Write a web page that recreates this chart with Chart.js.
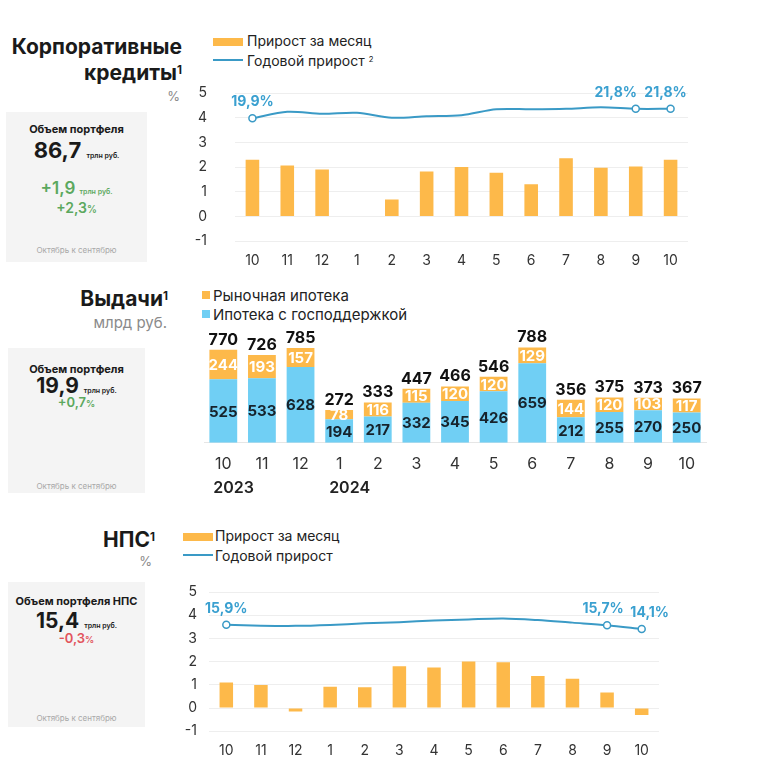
<!DOCTYPE html>
<html lang="ru">
<head>
  <meta charset="UTF-8">
  <title>Корпоративные кредиты, выдачи ипотеки, НПС</title>
  <script src="https://cdn.jsdelivr.net/npm/chart.js"></script>
  <style>
    body {
      margin: 0;
      width: 758px;
      height: 769px;
      position: relative;
      overflow: hidden;
      background: #fff;
      color: #1a1a1a;
      font-family: Inter, 'Noto Sans', sans-serif;
    }
    .t {
      position: absolute;
      white-space: nowrap;
      line-height: 1;
      transform: translateY(-50%);
    }
    .up { position: relative; top: -0.55em; font-size: 0.55em; }
    .box { position: absolute; background: #f4f4f4; }
    .box .t { left: 0; right: 0; text-align: center; }
    .unit { font-size: 7px; font-weight: 600; }
    .pct { font-size: 0.7em; }
    .note { font-size: 8px; color: #a8a8a8; }
    .green { color: #5ba85e; font-weight: 600; }
    .red { color: #e2535c; font-weight: 600; }
    .gray { color: #8a8a8a; }
    .sw { position: absolute; }
    .leg { font-size: 14px; color: #222; }
    .chart { position: absolute; }
  </style>
</head>
<body>
  <!-- левая колонка: заголовки -->
  <div class="t" style="right:576px;top:46px;font-weight:700;font-size:21px">Корпоративные</div>
  <div class="t" style="right:576px;top:72px;font-weight:700;font-size:21px">кредиты<span class="up">1</span></div>
  <div class="t gray" style="right:578px;top:96px;font-size:13px">%</div>

  <div class="t" style="right:590px;top:298px;font-weight:700;font-size:21px">Выдачи<span class="up">1</span></div>
  <div class="t gray" style="right:591px;top:322px;font-size:15px">млрд руб.</div>

  <div class="t" style="right:603px;top:539px;font-weight:700;font-size:21px">НПС<span class="up">1</span></div>
  <div class="t gray" style="right:606px;top:561px;font-size:13px">%</div>

  <!-- плашки с объемом портфеля -->
  <div class="box" style="left:6px;top:112px;width:141px;height:150px">
    <div class="t" style="top:17px;font-size:11px;font-weight:700">Объем портфеля</div>
    <div class="t" style="top:38px;font-size:22px;font-weight:700">86,7 <span class="unit">трлн руб.</span></div>
    <div class="t green" style="top:76px;font-size:17px">+1,9 <span class="unit">трлн руб.</span></div>
    <div class="t green" style="top:96px;font-size:14px">+2,3<span class="pct">%</span></div>
    <div class="t note" style="top:138px">Октябрь к сентябрю</div>
  </div>
  <div class="box" style="left:8px;top:348px;width:137px;height:145px">
    <div class="t" style="top:21px;font-size:11px;font-weight:700">Объем портфеля</div>
    <div class="t" style="top:37px;font-size:21px;font-weight:700">19,9 <span class="unit">трлн руб.</span></div>
    <div class="t green" style="top:54px;font-size:13px">+0,7<span class="pct">%</span></div>
    <div class="t note" style="top:138px">Октябрь к сентябрю</div>
  </div>
  <div class="box" style="left:8px;top:582px;width:137px;height:145px">
    <div class="t" style="top:19px;font-size:11px;font-weight:700">Объем портфеля НПС</div>
    <div class="t" style="top:38px;font-size:21px;font-weight:700">15,4 <span class="unit">трлн руб.</span></div>
    <div class="t red" style="top:56px;font-size:13px">-0,3<span class="pct">%</span></div>
    <div class="t note" style="top:136px">Октябрь к сентябрю</div>
  </div>

  <!-- легенды -->
  <div class="sw" style="left:213px;top:38px;width:30px;height:8px;background:#fdb94a"></div>
  <div class="t leg" style="left:247px;top:41px">Прирост за месяц</div>
  <div class="sw" style="left:213px;top:59px;width:30px;height:2px;background:#3a9ac6"></div>
  <div class="t leg" style="left:247px;top:61px">Годовой прирост <span class="up">2</span></div>

  <div class="sw" style="left:202px;top:291px;width:8px;height:8px;background:#fdb94a"></div>
  <div class="t leg" style="left:213px;top:295px;font-size:15px">Рыночная ипотека</div>
  <div class="sw" style="left:202px;top:310px;width:8px;height:8px;background:#70cff4"></div>
  <div class="t leg" style="left:213px;top:314px;font-size:15px">Ипотека с господдержкой</div>

  <div class="sw" style="left:183px;top:533px;width:30px;height:8px;background:#fdb94a"></div>
  <div class="t leg" style="left:215px;top:536px">Прирост за месяц</div>
  <div class="sw" style="left:183px;top:554px;width:30px;height:2px;background:#3a9ac6"></div>
  <div class="t leg" style="left:215px;top:556px">Годовой прирост</div>

  <div class="chart" style="left:185px;top:80px;width:520px;height:200px"><canvas id="corp"></canvas></div>
  <div class="chart" style="left:200px;top:320px;width:510px;height:180px"><canvas id="mortgage"></canvas></div>
  <div class="chart" style="left:160px;top:580px;width:510px;height:190px"><canvas id="nps"></canvas></div>

  <script>
    // --- данные ---
    const months = ['10', '11', '12', '1', '2', '3', '4', '5', '6', '7', '8', '9', '10'];
    const years = ['2023', '', '', '2024', '', '', '', '', '', '', '', '', ''];

    // корпоративные кредиты, %
    const corpMonthly = [2.3, 2.06, 1.9, 0, 0.69, 1.82, 2.0, 1.77, 1.31, 2.36, 1.97, 2.02, 2.3];
    const corpAnnual = [19.9, 21.2, 20.8, 21.0, 20.0, 20.3, 20.5, 21.7, 21.7, 21.8, 22.1, 21.8, 21.8];

    // выдачи ипотеки, млрд руб.
    const stateMortgage = [525, 533, 628, 194, 217, 332, 345, 426, 659, 212, 255, 270, 250];
    const marketMortgage = [244, 193, 157, 78, 116, 115, 120, 120, 129, 144, 120, 103, 117];
    const mortgageTotals = [770, 726, 785, 272, 333, 447, 466, 546, 788, 356, 375, 373, 367];

    // НПС, %
    const npsMonthly = [1.1, 0.99, -0.15, 0.92, 0.89, 1.8, 1.75, 2.0, 1.97, 1.38, 1.26, 0.67, -0.3];
    const npsAnnual = [15.9, 15.5, 15.4, 15.8, 16.5, 17.0, 17.7, 18.2, 18.6, 17.9, 16.8, 15.7, 14.1];

    // точки с подписями годового прироста
    const marked = [0, 11, 12];

    const ORANGE = '#fdb94a';
    const BLUE = '#70cff4';
    const LINE = '#3a9ac6';
    const LABEL = '#3aa0d0';

    Chart.defaults.font.family = 'Inter';
    Chart.defaults.color = '#333';
    Chart.defaults.animation = false;

    function fmt(v) {
      return v.toFixed(1).replace('.', ',') + '%';
    }

    // подписи над отмеченными точками линии
    function pointLabels(values, dx) {
      return {
        id: 'pointLabels',
        afterDatasetsDraw(chart) {
          const meta = chart.getDatasetMeta(0);
          const ctx = chart.ctx;
          ctx.save();
          ctx.font = '700 14px Inter';
          ctx.fillStyle = LABEL;
          ctx.textAlign = 'center';
          ctx.textBaseline = 'middle';
          marked.forEach((i, k) => {
            const p = meta.data[i];
            ctx.fillText(fmt(values[i]), p.x + dx[k], p.y - 16);
          });
          ctx.restore();
        }
      };
    }

    function growthChart(id, monthly, annual, y1, geo) {
      return new Chart(document.getElementById(id), {
        type: 'bar',
        data: {
          labels: months,
          datasets: [
            {
              type: 'line',
              data: annual,
              yAxisID: 'y1',
              borderColor: LINE,
              borderWidth: 2,
              tension: 0.3,
              pointRadius: months.map((m, i) => marked.includes(i) ? 3.5 : 0),
              pointBackgroundColor: '#fff',
              pointBorderColor: LINE,
              pointBorderWidth: 1.5,
              order: 0
            },
            {
              data: monthly,
              backgroundColor: ORANGE,
              barPercentage: 0.39,
              categoryPercentage: 1,
              order: 1
            }
          ]
        },
        options: {
          responsive: true,
          maintainAspectRatio: false,
          layout: { padding: geo.padding },
          plugins: { legend: { display: false }, tooltip: { enabled: false } },
          scales: {
            x: {
              grid: { display: false, drawTicks: false },
              border: { display: false },
              ticks: { padding: 11, font: { size: 14 }, color: '#333' }
            },
            y: {
              min: -1,
              max: 5,
              ticks: { stepSize: 1, padding: geo.tickPad, font: { size: 14 }, color: '#333' },
              grid: { color: '#eeeeee', drawTicks: false },
              border: { display: false },
              afterFit(s) {
                s.width = geo.axisWidth;
                s.paddingTop = 0;
                s.paddingBottom = 0;
              }
            },
            y1: { display: false, min: y1[0], max: y1[1] }
          }
        },
        plugins: [pointLabels(annual, geo.dx)]
      });
    }

    growthChart('corp', corpMonthly, corpAnnual, [-5, 25], {
      padding: { top: 13, right: 17, bottom: 0, left: 0 },
      axisWidth: 50,
      tickPad: 28,
      dx: [0, -20, -5]
    });

    growthChart('nps', npsMonthly, npsAnnual, [-30, 30], {
      padding: { top: 12, right: 11, bottom: 0, left: 0 },
      axisWidth: 49,
      tickPad: 12,
      dx: [0, -4, 8]
    });

    // подписи сегментов, итогов и годов для выдач
    const stackLabels = {
      id: 'stackLabels',
      afterDatasetsDraw(chart) {
        const ctx = chart.ctx;
        const state = chart.getDatasetMeta(0).data;
        const market = chart.getDatasetMeta(1).data;
        ctx.save();
        ctx.textAlign = 'center';
        ctx.textBaseline = 'middle';
        ctx.font = '700 15px Inter';
        state.forEach((b, i) => {
          ctx.fillStyle = '#16232c';
          ctx.fillText(stateMortgage[i], b.x, (b.y + b.base) / 2 + 1);
          const m = market[i];
          ctx.fillStyle = '#fff';
          ctx.fillText(marketMortgage[i], m.x, (m.y + m.base) / 2 + 1);
        });
        ctx.font = '700 16px Inter';
        ctx.fillStyle = '#111';
        ctx.textBaseline = 'bottom';
        market.forEach((m, i) => {
          ctx.fillText(mortgageTotals[i], m.x, m.y - 2);
        });
        const xs = chart.scales.x;
        ctx.font = '600 16px Inter';
        ctx.fillStyle = '#222';
        ctx.textAlign = 'left';
        ctx.textBaseline = 'middle';
        years.forEach((y, i) => {
          if (y) ctx.fillText(y, xs.getPixelForTick(i) - 10, 488 - 320);
        });
        ctx.restore();
      }
    };

    new Chart(document.getElementById('mortgage'), {
      type: 'bar',
      data: {
        labels: months,
        datasets: [
          { label: 'Ипотека с господдержкой', data: stateMortgage, backgroundColor: BLUE, barPercentage: 0.72, categoryPercentage: 1 },
          { label: 'Рыночная ипотека', data: marketMortgage, backgroundColor: ORANGE, barPercentage: 0.72, categoryPercentage: 1 }
        ]
      },
      options: {
        responsive: true,
        maintainAspectRatio: false,
        layout: { padding: { top: 14, right: 4, bottom: 14, left: 4 } },
        plugins: { legend: { display: false }, tooltip: { enabled: false } },
        scales: {
          x: {
            stacked: true,
            grid: { display: false, drawTicks: false },
            border: { display: true, color: '#e6e6e6' },
            ticks: { padding: 12, font: { size: 16 }, color: '#333' }
          },
          y: { stacked: true, display: false, min: 0, max: 900 }
        }
      },
      plugins: [stackLabels]
    });
  </script>
</body>
</html>
